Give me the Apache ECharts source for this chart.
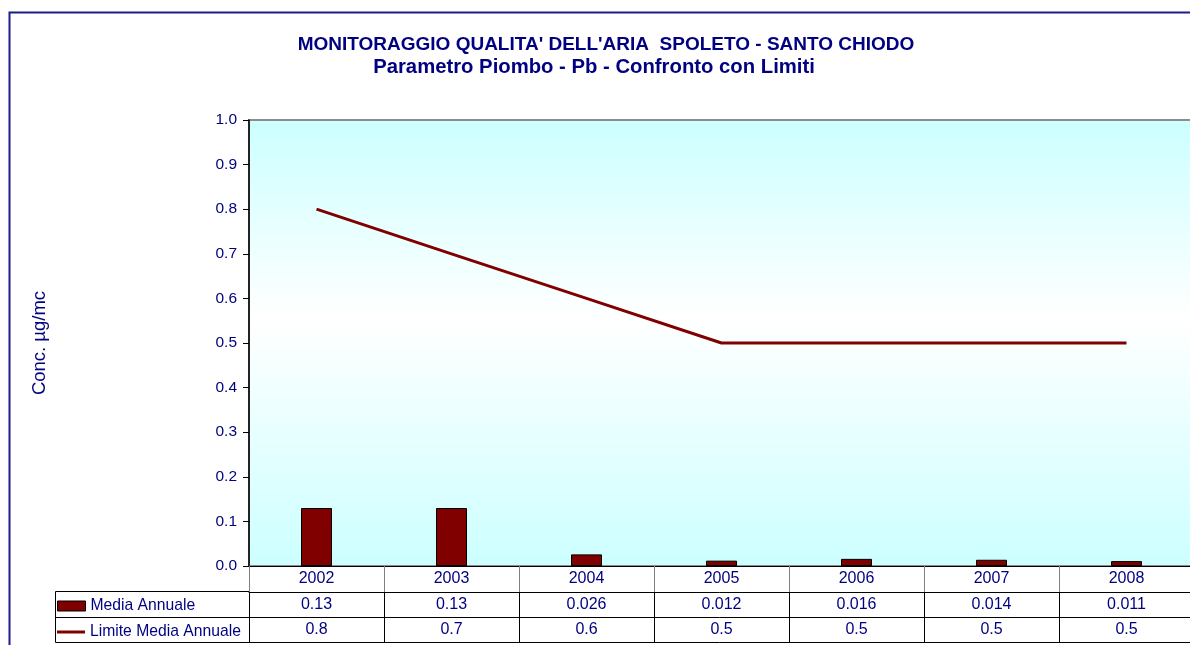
<!DOCTYPE html>
<html>
<head>
<meta charset="utf-8">
<script src="https://cdn.jsdelivr.net/npm/echarts@6/dist/echarts.min.js"></script>
<style>
  html, body { margin: 0; padding: 0; background: #fff; }
  #chart { width: 1190px; height: 645px; }
</style>
</head>
<body>
<div id="chart"></div>
<script>
// data
const anni = ['2002', '2003', '2004', '2005', '2006', '2007', '2008']
const mediaAnnuale = [0.13, 0.13, 0.026, 0.012, 0.016, 0.014, 0.011]
const limiteMediaAnnuale = [0.8, 0.7, 0.6, 0.5, 0.5, 0.5, 0.5]
const yTicks = ['0.0', '0.1', '0.2', '0.3', '0.4', '0.5', '0.6', '0.7', '0.8', '0.9', '1.0']

const navy = '#000080'
const rosso = '#800000'
const font = '"Liberation Sans", Arial, sans-serif'

// plot area / table layout
const gLeft = 249, gTop = 120, gWidth = 945, gHeight = 446
const rowH = 25
const tableLeft = 55

const chart = echarts.init(document.getElementById('chart'))

// one category axis per table row, stacked below the plot with offset
function rigaTabella(offset, labels, tickColor, tickLen) {
  return {
    type: 'category',
    data: anni,
    position: 'bottom',
    offset: offset,
    boundaryGap: true,
    axisLine: { show: true, lineStyle: { color: '#000', width: 1 } },
    axisTick: { show: tickLen > 0, length: tickLen, lineStyle: { color: tickColor, width: 1 } },
    axisLabel: {
      show: labels != null,
      margin: 5,
      color: navy,
      fontFamily: font,
      fontSize: 16,
      formatter: (v, i) => labels ? String(labels[i]) : ''
    },
    splitLine: { show: false }
  }
}

const bottom = gTop + gHeight
const sfondo = {
  type: 'linear', x: 0, y: 0, x2: 0, y2: 1,
  colorStops: [
    { offset: 0, color: '#CCFFFF' },
    { offset: 0.45, color: '#FFFFFF' },
    { offset: 1, color: '#CCFFFF' }
  ]
}

function voceLegenda(nome, top, h, bordo) {
  return {
    left: 57, top: top, padding: 0,
    itemWidth: 28, itemHeight: h,
    icon: 'rect',
    itemStyle: bordo ? { borderColor: '#000', borderWidth: 1 } : { borderWidth: 0 },
    textStyle: { color: navy, fontSize: 15.7, fontFamily: font, lineHeight: 16 },
    data: [nome]
  }
}

chart.setOption({
  backgroundColor: '#ffffff',
  animation: false,
  textStyle: { fontFamily: font },
  title: [
    {
      text: "MONITORAGGIO QUALITA' DELL'ARIA  SPOLETO - SANTO CHIODO",
      left: 601, top: 30, textAlign: 'center',
      textStyle: { color: navy, fontSize: 19, fontWeight: 'bold', fontFamily: font }
    },
    {
      text: 'Parametro Piombo - Pb - Confronto con Limiti',
      left: 589, top: 52, textAlign: 'center',
      textStyle: { color: navy, fontSize: 20.3, fontWeight: 'bold', fontFamily: font }
    }
  ],
  legend: [
    voceLegenda('Media Annuale', bottom + rowH + 7, 10, true),
    voceLegenda('Limite Media Annuale', bottom + 2 * rowH + 8, 3, false)
  ],
  grid: {
    left: gLeft, top: gTop, width: gWidth, height: gHeight,
    outerBoundsMode: 'none',
    show: true,
    backgroundColor: sfondo,
    borderColor: '#8c8c8c',
    borderWidth: 2
  },
  xAxis: [
    rigaTabella(0, anni, '#808080', rowH + 1),
    rigaTabella(rowH + 1, mediaAnnuale, '#000', rowH),
    rigaTabella(2 * rowH + 1, limiteMediaAnnuale, '#000', rowH),
    rigaTabella(3 * rowH + 1, null, '#000', 0)
  ],
  yAxis: {
    type: 'value',
    min: 0, max: 1, interval: 0.1,
    name: 'Conc. µg/mc',
    nameLocation: 'middle',
    nameRotate: 90,
    nameGap: 200,
    nameTextStyle: { color: navy, fontSize: 18.5, fontFamily: font },
    axisLine: { show: true, lineStyle: { color: '#000', width: 1.5 } },
    axisTick: { show: true, inside: false, length: 6, lineStyle: { color: '#000' } },
    axisLabel: {
      color: navy, fontSize: 15.5, fontFamily: font, margin: 12,
      formatter: v => yTicks[Math.round(v * 10)]
    },
    splitLine: { show: false }
  },
  series: [
    {
      name: 'Media Annuale',
      type: 'bar',
      xAxisIndex: 0,
      barWidth: 31,
      data: mediaAnnuale,
      itemStyle: { color: rosso, borderColor: '#000', borderWidth: 1 }
    },
    {
      name: 'Limite Media Annuale',
      type: 'line',
      xAxisIndex: 0,
      symbol: 'none',
      data: limiteMediaAnnuale,
      lineStyle: { color: rosso, width: 3 },
      itemStyle: { color: rosso }
    }
  ],
  graphic: [
    // chart frame
    { type: 'polyline', shape: { points: [[9.5, 700], [9.5, 12.5], [1200, 12.5]] },
      style: { stroke: '#1c1c8c', lineWidth: 2, fill: null }, silent: true },
    // left part of the data table (legend cells)
    { type: 'polyline', shape: { points: [[gLeft, bottom + rowH + 0.5], [tableLeft + 0.5, bottom + rowH + 0.5], [tableLeft + 0.5, bottom + 3 * rowH + 1.5], [gLeft, bottom + 3 * rowH + 1.5]] },
      style: { stroke: '#000', lineWidth: 1, fill: null }, silent: true },
    { type: 'line', shape: { x1: tableLeft, y1: bottom + 2 * rowH + 1.5, x2: gLeft, y2: bottom + 2 * rowH + 1.5 },
      style: { stroke: '#000', lineWidth: 1 }, silent: true }
  ]
})
</script>
</body>
</html>
